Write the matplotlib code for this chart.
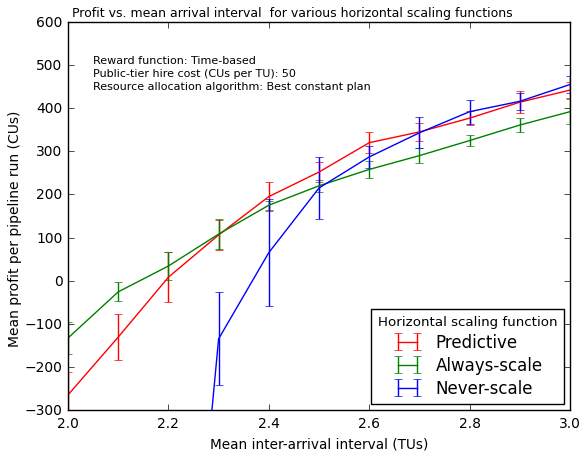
import matplotlib
matplotlib.use('Agg')
import matplotlib.pyplot as plt
import numpy as np

plt.style.use('classic')

# mean inter-arrival interval (TUs)
intervals = [2.0, 2.1, 2.2, 2.3, 2.4, 2.5, 2.6, 2.7, 2.8, 2.9, 3.0]

# mean profit per pipeline run (CUs) and error bars
predictive = [-265, -131, 8, 106, 195, 252, 320, 345, 377, 414, 442]
predictive_err = [53, 54, 58, 35, 33, 23, 25, 21, 17, 26, 18]

always_scale = [-133, -26, 34, 108, 175, 220, 258, 290, 325, 361, 392]
always_scale_err = [38, 22, 33, 34, 10, 14, 20, 18, 12, 16, 29]

never_scale = [-2500, -1900, -1380, -135, 65, 215, 287, 343, 392, 416, 455]
never_scale_err = [150, 140, 130, 108, 124, 72, 26, 36, 28, 19, 20]

series = [
    ('Predictive', predictive, predictive_err, 'r'),
    ('Always-scale', always_scale, always_scale_err, 'g'),
    ('Never-scale', never_scale, never_scale_err, 'b'),
]

fig = plt.figure(figsize=(5.82, 4.52), dpi=100, facecolor='white')
ax = fig.add_axes([68 / 582, 41 / 452, 502 / 582, 388 / 452])

for label, vals, errs, color in series:
    ax.errorbar(intervals, vals, yerr=errs, color=color, ecolor=color,
                capsize=3, linewidth=1.0, label=label)

ax.set_xlim(2.0, 3.0)
ax.set_ylim(-300, 600)
ax.set_xticks([2.0, 2.2, 2.4, 2.6, 2.8, 3.0])
ax.set_yticks(np.arange(-300, 601, 100))
ax.tick_params(labelsize=10)

# title is centred on the figure, not the axes
fig.text(0.503, 1 - 14 / 452,
         'Profit vs. mean arrival interval  for various horizontal scaling functions',
         fontsize=9, ha='center', va='center')
ax.set_xlabel('Mean inter-arrival interval (TUs)', fontsize=9.8)
ax.set_ylabel('Mean profit per pipeline run (CUs)', fontsize=10)
ax.yaxis.set_label_coords(-0.092, 0.469)

ax.text(0.05, 0.915,
        'Reward function: Time-based\n'
        'Public-tier hire cost (CUs per TU): 50\n'
        'Resource allocation algorithm: Best constant plan',
        transform=ax.transAxes, fontsize=8, va='top', ha='left',
        linespacing=1.4)

# two points per handle, like the old default: error bars at both ends
leg = ax.legend(loc='lower right', title='Horizontal scaling function',
                fontsize=12, numpoints=2, borderaxespad=0.35,
                labelspacing=0.3, handlelength=1.75)
leg.get_title().set_fontsize(9.6)

fig.savefig('out.png', dpi=100, facecolor='white')
